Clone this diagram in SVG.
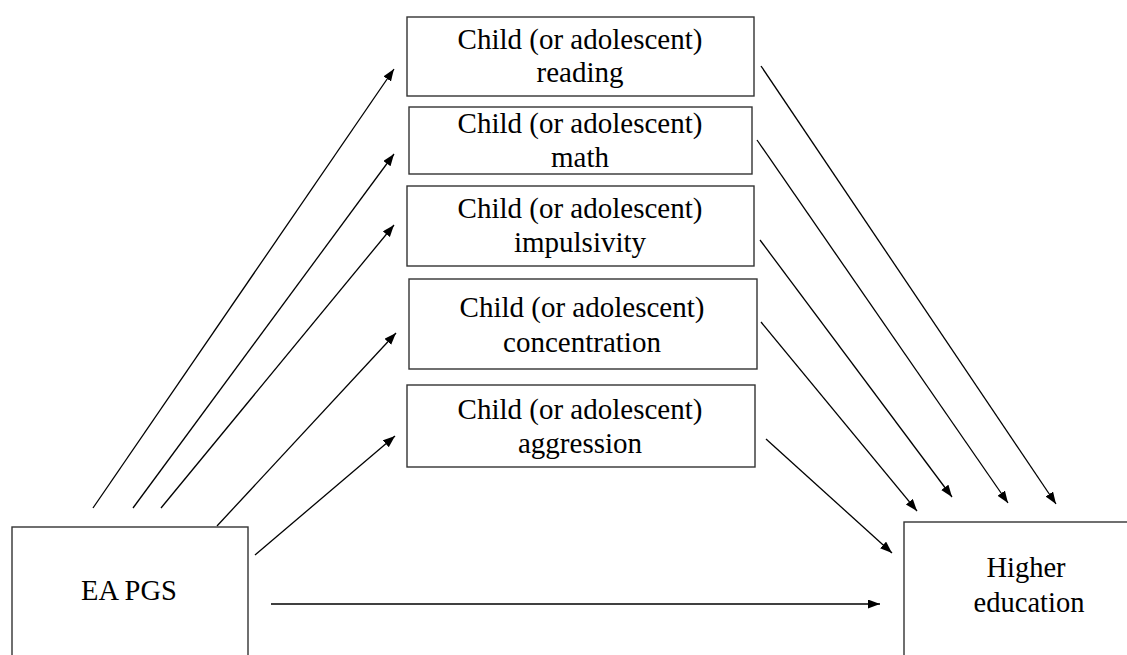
<svg xmlns="http://www.w3.org/2000/svg" width="1127" height="655" viewBox="0 0 1127 655">
<defs>
<style>
.box{fill:#fff;stroke:#333;stroke-width:1.4}
.t{font-family:"Liberation Serif","Times New Roman",serif;font-size:29px;fill:#000;text-anchor:middle}
.c{stroke:#000;stroke-width:1.3;fill:none;marker-end:url(#ah)}
</style>
<marker id="ah" markerUnits="userSpaceOnUse" markerWidth="13" markerHeight="10" refX="12" refY="4.5" orient="auto">
<path d="M0,0 L12,4.5 L0,9 Z" fill="#000"/>
</marker>
</defs>
<rect width="1127" height="655" fill="#fff"/>
<g id="connectors">
<line class="c" x1="93" y1="508" x2="394" y2="69"/>
<line class="c" x1="133" y1="508" x2="394" y2="154"/>
<line class="c" x1="161" y1="508" x2="394" y2="225"/>
<line class="c" x1="217" y1="526" x2="396" y2="333"/>
<line class="c" x1="255" y1="555" x2="395" y2="436"/>
<line class="c" x1="761" y1="66" x2="1056" y2="504"/>
<line class="c" x1="757" y1="140" x2="1008" y2="503"/>
<line class="c" x1="760" y1="240" x2="952" y2="497"/>
<line class="c" x1="761" y1="322" x2="917" y2="511"/>
<line class="c" x1="766" y1="439" x2="892" y2="553"/>
<line class="c" x1="271" y1="604" x2="880" y2="604"/>
</g>
<g id="reading">
<rect class="box" x="407" y="17" width="347" height="79"/>
<text class="t" x="580" y="49">Child (or adolescent)</text>
<text class="t" x="580" y="82">reading</text>
</g>
<g id="math">
<rect class="box" x="409" y="107" width="343" height="67"/>
<text class="t" x="580" y="133">Child (or adolescent)</text>
<text class="t" x="580" y="167">math</text>
</g>
<g id="impulsivity">
<rect class="box" x="407" y="186" width="347" height="80"/>
<text class="t" x="580" y="218">Child (or adolescent)</text>
<text class="t" x="580" y="252">impulsivity</text>
</g>
<g id="concentration">
<rect class="box" x="409" y="279" width="348" height="90"/>
<text class="t" x="582" y="317">Child (or adolescent)</text>
<text class="t" x="582" y="352">concentration</text>
</g>
<g id="aggression">
<rect class="box" x="407" y="385" width="348" height="82"/>
<text class="t" x="580" y="419">Child (or adolescent)</text>
<text class="t" x="580" y="453">aggression</text>
</g>
<g id="ea-pgs">
<rect class="box" x="12" y="527" width="236" height="140"/>
<text class="t" x="129" y="600" style="font-size:28.5px">EA PGS</text>
</g>
<g id="higher-education">
<rect class="box" x="904" y="522" width="240" height="150"/>
<text class="t" x="1026" y="577" style="font-size:28.5px">Higher</text>
<text class="t" x="1029" y="612" style="font-size:28.5px">education</text>
</g>
</svg>
